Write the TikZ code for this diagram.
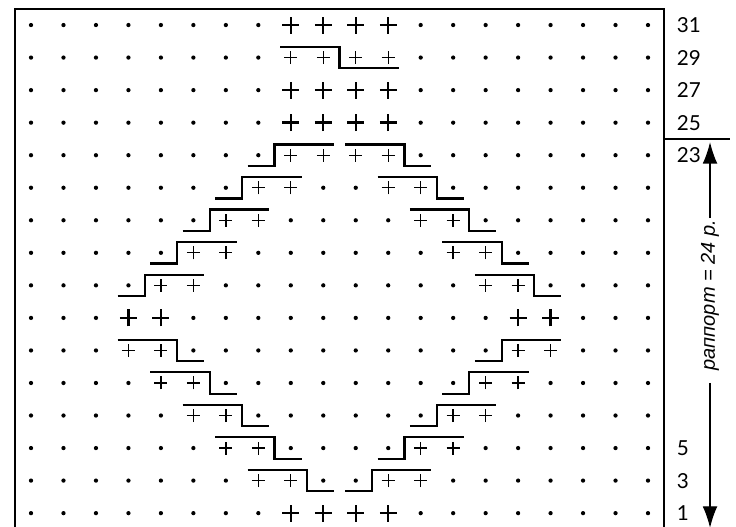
\documentclass[tikz,border=0pt]{standalone}
\usepackage{fontspec}
\setmainfont{Lato}
\newfontfamily\repfont{Liberation Sans}
\usetikzlibrary{arrows.meta}

\begin{document}
\begin{tikzpicture}[x=24.35pt,y=24.4pt,
    rowlbl/.style={anchor=west, inner sep=0pt, font=\fontsize{15.5}{18}\selectfont},
    stepline/.style={line width=1.6pt},
    dimline/.style={line width=0.8pt}]
    \useasboundingbox (-0.955,-0.40) rectangle (21.71,15.77);

    \draw[line width=1.5pt] (-0.5,-0.5) rectangle (19.5,15.5);
    \draw[line width=1pt] (19.5,11.5) -- (21.53,11.5);

    \foreach \k/\p/\q/\sz in {15/8/10/1,14/8/10/0,13/8/10/1,12/8/10/1,11/8/10/0,10/7/11/0,9/6/12/0,8/5/13/0,
                              7/4/14/0,6/3/15/1,5/3/15/0,4/4/14/0,3/5/13/0,2/6/12/0,1/7/11/0,0/8/10/1}
    {
        \pgfmathsetmacro\hs{0.2+0.06*\sz}
        \pgfmathsetmacro\lw{1.0+0.75*\sz}
        \foreach \i in {0,...,19}
        {
            \pgfmathtruncatemacro\isplus{(\i==\p)||(\i==\p+1)||(\i==\q)||(\i==\q+1)}
            \ifnum\isplus=1
                \draw[line width=\lw pt, shift={(\i,\k)}] (-\hs,0) -- (\hs,0) (0,-\hs) -- (0,\hs);
            \else
                \fill (\i,\k) circle (1.6pt);
            \fi
        }
    }

    \foreach \dc/\k in {7/11,6/10,5/9,4/8,3/7,14/5,13/4,12/3,11/2,10/1}
        \draw[stepline] (\dc-0.33,\k-0.33) -- (\dc+0.5,\k-0.33) -- (\dc+0.5,\k+0.33) -- (\dc+2.33,\k+0.33);
    \foreach \pc/\k in {10/11,11/10,12/9,13/8,14/7,3/5,4/4,5/3,6/2,7/1}
        \draw[stepline] (\pc-0.33,\k+0.33) -- (\pc+1.5,\k+0.33) -- (\pc+1.5,\k-0.33) -- (\pc+2.33,\k-0.33);
    \draw[stepline] (7.67,14.33) -- (9.5,14.33) -- (9.5,13.67) -- (11.33,13.67);

    \foreach \k/\n in {15/31,14/29,13/27,12/25,11/23,2/5,1/3,0/1}
        \node[rowlbl] (row\n) at (19.88,\k) {\n};

    \node[rotate=90, inner sep=0pt, font=\repfont\itshape\fontsize{15}{18}\selectfont] (rapport) at (20.91,6.70) {раппорт = 24 р.};
    \coordinate (reptop) at (20.91,11.40);
    \coordinate (repbot) at (20.91,-0.45);
    \coordinate (gaptop) at (20.91,9.07);
    \coordinate (gapbot) at (20.91,4.00);
    \draw[dimline, -{Latex[length=16pt,width=11pt]}] (gaptop) -- (reptop);
    \draw[dimline, -{Latex[length=16pt,width=11pt]}] (gapbot) -- (repbot);
\end{tikzpicture}
\end{document}
